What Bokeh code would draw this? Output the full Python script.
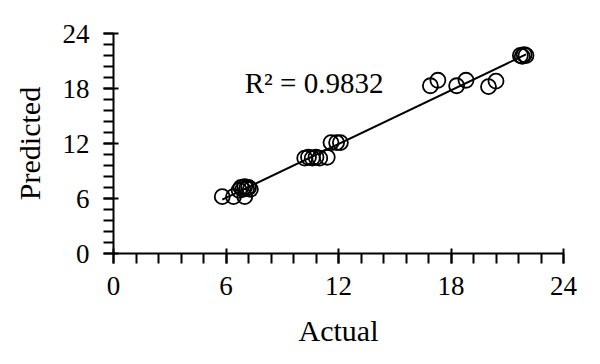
import numpy as np
from bokeh.plotting import figure
from bokeh.models import FixedTicker, Range1d, ColumnDataSource
from bokeh.core.properties import value
from bokeh.embed import file_html
from bokeh.resources import INLINE

actual = [5.8, 6.4, 7.0, 6.7, 6.8, 6.9, 7.0, 7.1, 7.2, 7.3,
          10.2, 10.4, 10.6, 10.8, 11.0, 11.4, 11.6, 11.9, 12.1,
          16.9, 17.3, 18.3, 18.8, 20.0, 20.4, 21.7, 21.8, 21.9, 22.0]
predicted = [6.2, 6.2, 6.2, 6.9, 7.2, 7.0, 7.3, 7.1, 7.2, 7.0,
             10.4, 10.5, 10.4, 10.5, 10.4, 10.5, 12.1, 12.1, 12.1,
             18.3, 18.9, 18.3, 18.9, 18.2, 18.8, 21.6, 21.5, 21.7, 21.6]
major_ticks = [0, 6, 12, 18, 24]
r2_label = "R\u00b2 = 0.9832"

FONT = "Liberation Serif"

p = figure(width=600, height=364, output_backend="svg", toolbar_location=None,
           x_range=Range1d(0, 24), y_range=Range1d(0, 24),
           min_border_left=113, min_border_right=37, min_border_top=33, min_border_bottom=111)
p.outline_line_color = None
p.xgrid.visible = False
p.ygrid.visible = False

minor = [round(i * 1.2, 2) for i in range(21)]
for ax in (p.xaxis[0], p.yaxis[0]):
    ax.ticker = FixedTicker(ticks=major_ticks, minor_ticks=minor)
    ax.axis_line_width = 2
    ax.axis_line_color = "black"
    ax.major_tick_line_width = 2
    ax.minor_tick_line_width = 2
    ax.major_tick_line_color = "black"
    ax.minor_tick_line_color = "black"
    ax.major_tick_in = 5
    ax.major_tick_out = 10
    ax.minor_tick_in = 0
    ax.minor_tick_out = 10
    ax.major_label_text_font = FONT
    ax.major_label_text_font_size = "27px"
    ax.major_label_text_color = "black"
    ax.axis_label_text_font = FONT
    ax.axis_label_text_font_size = "30px"
    ax.axis_label_text_font_style = "normal"
    ax.axis_label_text_color = "black"

p.xaxis.axis_label = "Actual"
p.yaxis.axis_label = "Predicted"
p.xaxis.major_label_standoff = 13
p.yaxis.major_label_standoff = 14
p.xaxis.axis_label_standoff = 16
p.yaxis.axis_label_standoff = 14

# regression line
a = np.array(actual)
b = np.array(predicted)
m, c = np.polyfit(a, b, 1)
xs = [a.min(), a.max()]
ys = [m * x + c for x in xs]
p.line(xs, ys, line_color="black", line_width=2)

src = ColumnDataSource(dict(x=actual, y=predicted))
p.scatter("x", "y", source=src, size=15, marker="circle", fill_color=None,
          line_color="black", line_width=1.8)

p.text(x=[7.0], y=[18.6], text=[r2_label], text_font=value(FONT),
       text_font_size="29px", text_baseline="alphabetic", text_align="left", text_color="black")

open("out.html", "w").write(file_html(p, INLINE))
